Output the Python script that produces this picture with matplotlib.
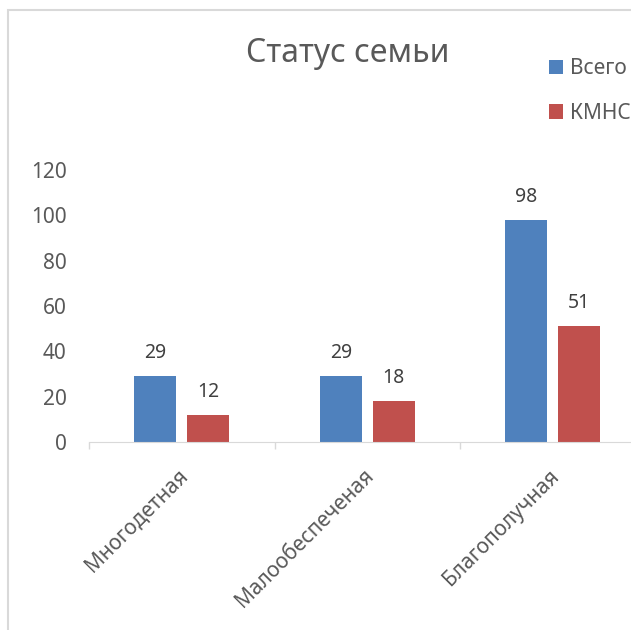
import matplotlib
matplotlib.use('Agg')
import matplotlib.pyplot as plt
import matplotlib.patches as patches
import matplotlib.transforms as mtransforms
import numpy as np

# Chart data
categories = ['Многодетная', 'Малообеспеченая', 'Благополучная']
series_names = ['Всего', 'КМНС']
vsego = [29, 29, 98]
kmns = [12, 18, 51]
y_ticks = [0, 20, 40, 60, 80, 100, 120]

colors = ['#4F81BD', '#C0504D']
text_color = '#595959'

plt.rcParams['font.family'] = ['Noto Sans', 'DejaVu Sans']

fig = plt.figure(figsize=(6.31, 6.30), dpi=100)
ax = fig.add_axes([89 / 631, 188 / 630, 556.5 / 631, 272 / 630])

x = np.arange(len(categories))
bar_w = 0.226
offset = 0.143
bars1 = ax.bar(x - offset, vsego, bar_w, color=colors[0], label=series_names[0])
bars2 = ax.bar(x + offset, kmns, bar_w, color=colors[1], label=series_names[1])

for bars in (bars1, bars2):
    for b in bars:
        ax.annotate(str(int(b.get_height())), (b.get_x() + b.get_width() / 2, b.get_height()),
                    xytext=(0, 9.5), textcoords='offset points', ha='center', va='bottom',
                    fontsize=14, color='#404040')

ax.set_xlim(-0.5, 2.5)
ax.set_ylim(0, 120)
ax.set_yticks(y_ticks)
ax.tick_params(axis='y', length=0, pad=16, labelsize=15, labelcolor=text_color)

# category separators as ticks, labels at centres
ax.set_xticks(np.arange(-0.5, 3.0, 1.0))
ax.set_xticklabels([])
ax.set_xticks(x, minor=True)
ax.set_xticklabels(categories, minor=True, rotation=45, ha='right', rotation_mode='anchor',
                   fontsize=15, color=text_color)
ax.tick_params(axis='x', which='major', length=5, color='#D9D9D9', width=1)
ax.tick_params(axis='x', which='minor', length=0, pad=17)
shift = mtransforms.ScaledTranslation(-4 / 100, 0, fig.dpi_scale_trans)
for lbl in ax.get_xticklabels(minor=True):
    lbl.set_transform(lbl.get_transform() + shift)

for s in ['left', 'right', 'top']:
    ax.spines[s].set_visible(False)
ax.spines['bottom'].set_color('#D9D9D9')

fig.text(347.5 / 631, 1 - 54 / 630, 'Статус семьи', ha='center', va='center',
         fontsize=23, color=text_color)

fig.legend(loc='upper left', bbox_to_anchor=(549 / 631, 1 - 58 / 630), frameon=False,
           fontsize=15, labelcolor=text_color, handlelength=0.67, handleheight=0.67,
           handletextpad=0.34, labelspacing=1.14, borderpad=0, borderaxespad=0)

# outer chart frame (cropped)
fig.patches.append(patches.Rectangle((8 / 631, -0.1), 1.2, 1.1 - 10 / 630, fill=False,
                                     edgecolor='#D9D9D9', linewidth=1.5,
                                     transform=fig.transFigure, figure=fig))

fig.savefig('out.png', dpi=100)
